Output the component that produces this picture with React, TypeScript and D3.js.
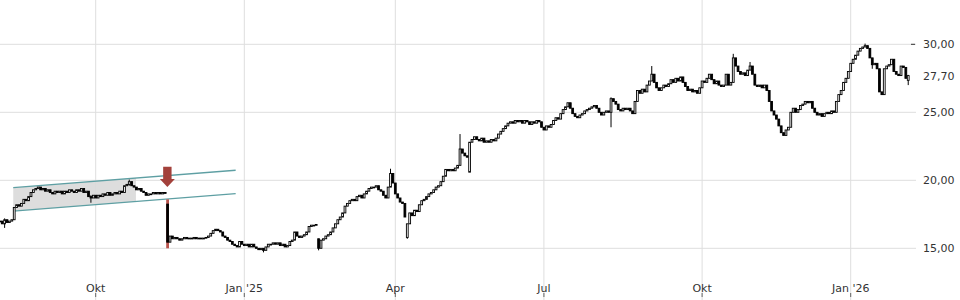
import React from 'react';
import * as d3 from 'd3';

// ---- data ----
const startDate = '2024-08-06';
const holidays = [
  '2024-12-24', '2024-12-25', '2024-12-26', '2024-12-31', '2025-01-01',
  '2025-04-18', '2025-04-21', '2025-05-01',
  '2025-12-24', '2025-12-25', '2025-12-26', '2025-12-31', '2026-01-01',
];

const closes = [
  17.0, 16.8, 17.1, 16.9, 17.0, 17.1, 18.0, 18.2, 18.1, 18.3,
  18.6, 18.5, 18.8, 19.1, 19.3, 19.4, 19.5, 19.3, 19.4, 19.2,
  19.3, 19.1, 19.0, 19.2, 19.1, 19.2, 19.0, 19.2, 19.1, 19.3,
  19.2, 19.1, 19.3, 19.2, 19.4, 19.1, 19.2, 18.8, 18.7, 18.9,
  18.7, 18.9, 18.8, 19.0, 18.9, 19.1, 18.9, 19.0, 19.1, 19.0,
  19.2, 19.1, 19.6, 19.7, 19.9, 19.6, 19.5, 19.3, 19.4, 19.2,
  19.1, 18.9, 19.0, 19.0, 19.1, 19.0, 19.1, 19.0, 19.1, 19.05,
  15.45, 15.9, 15.7, 15.8, 15.7, 15.6, 15.7, 15.8, 15.7, 15.75,
  15.7, 15.8, 15.7, 15.75, 15.7, 15.75, 15.8, 15.9, 16.1, 16.3,
  16.4, 16.3, 16.2, 15.9, 15.8, 15.6, 15.5, 15.3, 15.2, 15.1,
  15.5, 15.3, 15.2, 15.3, 15.1, 15.3, 15.1, 15.0, 14.9, 15.0,
  14.85, 15.1, 15.3, 15.3, 15.4, 15.3, 15.4, 15.2, 15.3, 15.1,
  15.2, 15.5, 15.6, 16.2, 15.9, 15.8, 15.9, 16.0, 16.2, 16.6,
  16.7, 16.7, 16.75, 15.0, 15.6, 15.7, 15.9, 16.0, 16.2, 16.5,
  16.8, 17.1, 17.3, 17.6, 18.1, 18.3, 18.5, 18.6, 18.5, 18.8,
  18.9, 18.7, 19.0, 19.2, 19.4, 19.5, 19.5, 19.6, 19.3, 19.2,
  18.9, 18.7, 19.5, 20.5, 19.8, 19.0, 18.7, 18.4, 18.3, 17.3,
  16.8, 17.6, 17.4, 17.8, 17.7, 18.2, 18.5, 18.6, 18.8, 19.0,
  19.1, 19.3, 19.5, 19.6, 19.9, 20.3, 20.8, 20.7, 20.8, 20.7,
  20.9, 21.1, 22.3, 22.0, 21.8, 21.7, 22.8, 23.0, 23.2, 23.0,
  22.9, 23.1, 22.8, 22.9, 22.8, 23.0, 22.9, 23.1, 23.4, 23.6,
  23.8, 24.0, 24.2, 24.3, 24.2, 24.4, 24.3, 24.4, 24.2, 24.4,
  24.3, 24.1, 24.3, 24.2, 24.4, 24.3, 23.9, 23.7, 24.0, 23.9,
  24.1, 24.4, 24.6, 24.5, 24.9, 25.2, 25.4, 25.7, 25.3, 24.9,
  24.7, 24.6, 24.8, 24.9, 25.1, 25.2, 25.3, 25.4, 25.5, 25.3,
  25.0, 24.8, 25.0, 25.1, 25.0, 26.0, 25.8, 25.6, 25.2, 25.1,
  25.3, 25.2, 25.3, 25.1, 24.9, 25.8, 26.6, 26.4, 26.7, 26.5,
  27.0, 27.3, 27.8, 27.2, 26.8, 26.6, 26.8, 27.0, 26.9, 27.1,
  27.4, 27.2, 27.5, 27.3, 27.6, 27.2, 26.9, 26.6, 26.7, 26.5,
  26.6, 26.4, 26.8, 27.3, 27.2, 27.5, 27.8, 27.4, 27.1, 27.3,
  27.0, 26.9, 27.0, 27.8, 27.0, 27.2, 29.0, 28.4, 28.0, 27.8,
  27.9, 27.7, 28.1, 28.4, 27.8, 27.0, 26.9, 27.0, 26.8, 27.0,
  26.6, 25.8, 25.1, 24.8, 24.5, 24.0, 23.5, 23.3, 23.7, 23.9,
  25.0, 25.3, 25.0, 25.2, 25.5, 25.6, 25.8, 25.7, 25.8, 25.3,
  25.0, 24.8, 24.9, 24.7, 24.9, 25.0, 24.9, 25.1, 25.0, 25.8,
  26.3, 26.6, 27.2, 27.5, 28.0, 28.6, 28.9, 29.2, 29.5, 29.7,
  29.8, 29.9, 29.7, 29.0, 28.5, 28.6, 28.2, 26.5, 26.3, 28.2,
  28.4, 28.5, 28.9, 28.0, 27.8, 27.7, 28.4, 28.3, 27.5, 27.7,
];

// opens that gap away from the previous close: [index, open]
const gapOpens: [number, number][] = [
  [70, 18.25], [133, 15.7], [170, 15.8], [196, 20.6], [379, 27.35],
];

// notable wicks: [index, high, low]
const wicks: [number, number, number][] = [
  [2, 17.2, 16.5], [38, 18.9, 18.35], [54, 20.05, 19.6], [70, 18.6, 15.0],
  [110, 15.0, 14.7], [133, 15.7, 14.85], [163, 20.85, 19.5], [170, 16.8, 15.7],
  [192, 23.4, 21.1], [255, 26.1, 23.9], [272, 28.4, 27.3], [306, 29.3, 27.2],
  [313, 28.7, 28.1], [361, 30.05, 29.8], [364, 29.0, 28.2], [379, 27.75, 27.0],
];

const yTicks = [15, 20, 25, 30];
const monthNames = ['Jan', 'Feb', 'Mär', 'Apr', 'Mai', 'Jun', 'Jul', 'Aug', 'Sep', 'Okt', 'Nov', 'Dez'];
const tickMonths = [0, 3, 6, 9];

const highlightIdx = 70;
const channelFrom = 5.6;
const channelTo = 98.4;
const channelFillTo = 56.8;
const channelTop = [19.46, 20.74];
const channelBottom = [17.74, 19.02];
const arrowIdx = 69.9;
const arrowTip = 19.5;
const arrowTop = 21.0;

// ---- derived ----
function tradingDates(start: string, n: number): Date[] {
  const out: Date[] = [];
  const d = new Date(start + 'T00:00:00Z');
  const hol = new Set(holidays);
  while (out.length < n) {
    const wd = d.getUTCDay();
    const iso = d.toISOString().slice(0, 10);
    if (wd !== 0 && wd !== 6 && !hol.has(iso)) out.push(new Date(d));
    d.setUTCDate(d.getUTCDate() + 1);
  }
  return out;
}

const dates = tradingDates(startDate, closes.length);
const gapMap = new Map(gapOpens);
const wickMap = new Map(wicks.map((w) => [w[0], [w[1], w[2]]]));
const candles = closes.map((c, i) => {
  const o = gapMap.has(i) ? (gapMap.get(i) as number) : i > 0 ? closes[i - 1] : c;
  const w = wickMap.get(i);
  const h = Math.max(o, c, w ? w[0] : -Infinity);
  const l = Math.min(o, c, w ? w[1] : Infinity);
  return { i, o, h, l, c, date: dates[i] };
});

const xTicks: { i: number; label: string }[] = [];
dates.forEach((d, i) => {
  if (i === 0) return;
  const m = d.getUTCMonth();
  if (m !== dates[i - 1].getUTCMonth() && tickMonths.includes(m)) {
    const label = m === 0 ? `Jan '${String(d.getUTCFullYear()).slice(2)}` : monthNames[m];
    xTicks.push({ i, label });
  }
});

const locale = d3.formatLocale({ decimal: ',', thousands: '.', grouping: [3], currency: ['', ' €'] });
const fmt = locale.format('.2f');

export default function App() {
  const W = 960;
  const H = 300;
  const plotRight = 916;
  const okt = xTicks[0].i;
  const jan26 = xTicks[xTicks.length - 1].i;
  const x = d3.scaleLinear().domain([okt, jan26]).range([95.7, 850.7]);
  const y = d3.scaleLinear().domain([15, 30]).range([248.3, 44.3]);

  const bodyW = 1.8;
  const last = candles[candles.length - 1];

  const lerp = (a: number[], t: number) => a[0] + (a[1] - a[0]) * t;
  const tFill = (channelFillTo - channelFrom) / (channelTo - channelFrom);
  const fillPts = [
    [x(channelFrom), y(channelTop[0])],
    [x(channelFillTo), y(lerp(channelTop, tFill))],
    [x(channelFillTo), y(lerp(channelBottom, tFill))],
    [x(channelFrom), y(channelBottom[0])],
  ];

  const ax = x(arrowIdx);
  const yTipA = y(arrowTip);
  const yTopA = y(arrowTop);
  const headH = 8;
  const arrowPath = `M${ax - 4.2},${yTopA} L${ax + 4.2},${yTopA} L${ax + 4.2},${yTipA - headH} L${ax + 7.5},${yTipA - headH} L${ax},${yTipA} L${ax - 7.5},${yTipA - headH} L${ax - 4.2},${yTipA - headH} Z`;

  const hl = candles[highlightIdx];

  return (
    <svg
      width={W}
      height={H}
      style={{ position: 'absolute', left: 0, top: 0, background: '#fff' }}
      fontFamily="DejaVu Sans, sans-serif"
    >
      <rect width={W} height={H} fill="#fff" />
      {/* vertical grid */}
      {xTicks.map((t) => (
        <g key={t.i}>
          <line x1={x(t.i)} x2={x(t.i)} y1={0} y2={H} stroke="#dedede" strokeWidth={1} />
          <line x1={x(t.i)} x2={x(t.i)} y1={293} y2={297} stroke="#666" strokeWidth={1} />
          <text x={x(t.i)} y={291.5} textAnchor="middle" fontSize={11} fill="#333">
            {t.label}
          </text>
        </g>
      ))}
      {/* horizontal grid */}
      {yTicks.map((v) => (
        <g key={v}>
          <line x1={0} x2={plotRight} y1={y(v)} y2={y(v)} stroke="#dedede" strokeWidth={1} />
          <text x={923} y={y(v) + 4} fontSize={11} fill="#333">
            {fmt(v)}
          </text>
        </g>
      ))}
      <line x1={911} x2={915} y1={y(30)} y2={y(30)} stroke="#333" strokeWidth={1} />
      <text x={923} y={y(last.c) + 4} fontSize={11} fill="#333">
        {fmt(last.c)}
      </text>

      {/* channel */}
      <polygon points={fillPts.map((p) => p.join(',')).join(' ')} fill="#d9d9d9" opacity={0.9} />
      <line
        x1={x(channelFrom)} y1={y(channelTop[0])} x2={x(channelTo)} y2={y(channelTop[1])}
        stroke="#5e9fa3" strokeWidth={1.3}
      />
      <line
        x1={x(channelFrom)} y1={y(channelBottom[0])} x2={x(channelTo)} y2={y(channelBottom[1])}
        stroke="#5e9fa3" strokeWidth={1.3}
      />

      {/* highlight of the drop day */}
      <rect x={x(hl.i) - 1.4} width={2.8} y={y(hl.h)} height={y(hl.l) - y(hl.h)} fill="#b8524b" />

      {/* candles */}
      {candles.map((d) => {
        const cx = x(d.i);
        const up = d.c >= d.o;
        const top = y(Math.max(d.o, d.c));
        const bot = y(Math.min(d.o, d.c));
        const hgt = Math.max(bot - top, 0.8);
        return (
          <g key={d.i}>
            {d.i !== highlightIdx && (
              <line x1={cx} x2={cx} y1={y(d.h)} y2={y(d.l)} stroke="#000" strokeWidth={1} />
            )}
            <rect
              x={cx - bodyW / 2}
              y={top}
              width={bodyW}
              height={hgt}
              fill={up ? '#fff' : '#000'}
              stroke="#000"
              strokeWidth={0.9}
            />
          </g>
        );
      })}

      {/* arrow */}
      <path d={arrowPath} fill="#a3413b" />
    </svg>
  );
}
